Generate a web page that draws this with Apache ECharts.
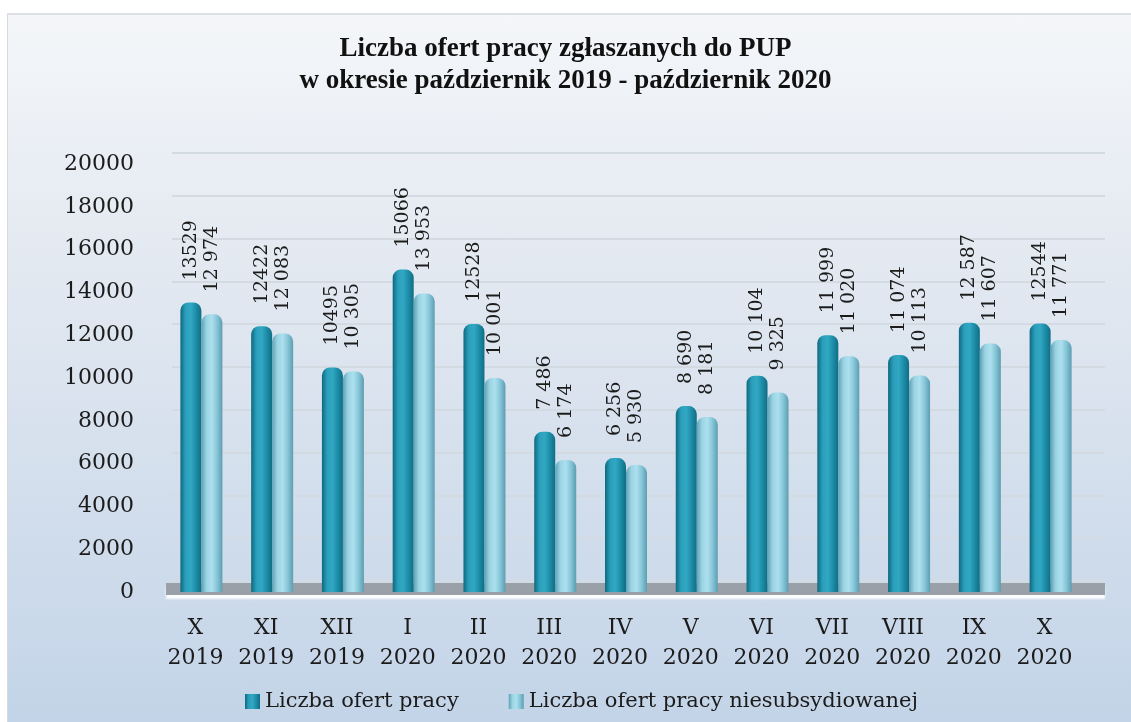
<!DOCTYPE html>
<html>
<head>
<meta charset="utf-8">
<script src="https://cdn.jsdelivr.net/npm/echarts@6/dist/echarts.min.js"></script>
<style>
  html, body { margin: 0; padding: 0; background: #ffffff; }
  #wrap { position: relative; width: 1131px; height: 722px; }
  #panel {
    position: absolute; left: 7px; top: 13px; right: 0; bottom: 0;
    border-left: 1px solid #d6dade; border-top: 2px solid #dde0e4;
    background: linear-gradient(to bottom, #f4f6f9 0%, #e3e9f1 35%, #c3d4e8 100%);
  }
  #chart { position: absolute; left: 0; top: 0; width: 1131px; height: 722px; }
</style>
</head>
<body>
<div id="wrap">
  <div id="panel"></div>
  <div id="chart"></div>
</div>
<script>
const months = ['X\n2019', 'XI\n2019', 'XII\n2019', 'I\n2020', 'II\n2020', 'III\n2020', 'IV\n2020',
  'V\n2020', 'VI\n2020', 'VII\n2020', 'VIII\n2020', 'IX\n2020', 'X\n2020']
const offers = [13529, 12422, 10495, 15066, 12528, 7486, 6256, 8690, 10104, 11999, 11074, 12587, 12544]
const offersUnsub = [12974, 12083, 10305, 13953, 10001, 6174, 5930, 8181, 9325, 11020, 10113, 11607, 11771]
// labels as printed in the source chart (spacing is inconsistent there)
const offersLabels = ['13529', '12422', '10495', '15066', '12528', '7 486', '6 256', '8 690', '10 104',
  '11 999', '11 074', '12 587', '12544']
const offersUnsubLabels = ['12 974', '12 083', '10 305', '13 953', '10 001', '6 174', '5 930', '8 181',
  '9 325', '11 020', '10 113', '11 607', '11 771']
const yTicks = { min: 0, max: 20000, interval: 2000 }

const serif = 'DejaVu Serif'
const chart = echarts.init(document.getElementById('chart'))

function cylinder(stops) {
  return new echarts.graphic.LinearGradient(0, 0, 1, 0, stops.map((c, i) => ({
    offset: i / (stops.length - 1), color: c
  })))
}
const darkFill = cylinder(['#0e687f', '#2a9fbb', '#31a8c3', '#1d8ca7', '#106d84'])
const lightFill = cylinder(['#5ea2b5', '#9cd4e4', '#ace0ee', '#86c5d7', '#5c9db0'])

function valueLabel(texts) {
  return {
    show: true,
    position: 'top',
    rotate: 90,
    align: 'left',
    verticalAlign: 'middle',
    distance: 22,
    fontFamily: serif,
    fontSize: 19,
    color: '#1b1b1b',
    formatter: (p) => texts[p.dataIndex]
  }
}

const hiddenValueAxis = (gridIndex) => ({
  type: 'value',
  gridIndex,
  min: yTicks.min,
  max: yTicks.max,
  show: false
})

chart.setOption({
  backgroundColor: 'transparent',
  animation: false,
  title: {
    text: 'Liczba ofert pracy zgłaszanych do PUP\nw okresie październik 2019 - październik 2020',
    left: 'center',
    top: 28,
    textStyle: {
      fontFamily: 'Liberation Serif',
      fontWeight: 'bold',
      fontSize: 27,
      lineHeight: 32,
      color: '#111'
    }
  },
  legend: {
    left: 240,
    top: 686,
    itemWidth: 15,
    itemHeight: 15,
    itemGap: 50,
    icon: 'rect',
    textStyle: { fontFamily: serif, fontSize: 21, color: '#1b1b1b' },
    data: ['Liczba ofert pracy', 'Liczba ofert pracy niesubsydiowanej']
  },
  grid: [
    { left: 166, right: 45, top: 164, bottom: 130 },
    // back wall of the 3D frame (gridlines)
    { left: 172, right: 26, top: 153, bottom: 141 },
    // floor slab
    { left: 166, right: 26, top: 400, bottom: 133 }
  ],
  xAxis: [
    {
      type: 'category',
      data: months,
      gridIndex: 0,
      axisLine: { show: false },
      axisTick: { show: false },
      axisLabel: {
        interval: 0,
        fontFamily: serif,
        fontSize: 22,
        lineHeight: 30,
        color: '#1b1b1b',
        margin: 21,
        padding: [0, 12, 0, 0]
      }
    },
    {
      type: 'category',
      data: months,
      gridIndex: 1,
      show: false
    },
    {
      type: 'category',
      data: months,
      gridIndex: 2,
      z: 0,
      axisLine: {
        show: true,
        lineStyle: {
          color: '#9aa0a7',
          width: 12,
          cap: 'butt',
          shadowColor: 'rgba(255,255,255,0.9)',
          shadowOffsetY: 4,
          shadowBlur: 2
        }
      },
      axisTick: { show: false },
      axisLabel: { show: false }
    }
  ],
  yAxis: [
    {
      type: 'value',
      gridIndex: 0,
      min: yTicks.min,
      max: yTicks.max,
      interval: yTicks.interval,
      splitLine: { show: false },
      axisLine: { show: false },
      axisTick: { show: false },
      axisLabel: {
        fontFamily: serif,
        fontSize: 22,
        color: '#1b1b1b',
        margin: 32,
        padding: [12, 0, 0, 0],
        formatter: (v) => String(v)
      }
    },
    {
      type: 'value',
      gridIndex: 1,
      min: yTicks.min,
      max: yTicks.max,
      interval: yTicks.interval,
      z: 0,
      axisLine: { show: false },
      axisTick: { show: false },
      axisLabel: { show: false },
      splitLine: { lineStyle: { color: '#d4dae1', width: 2 } }
    },
    hiddenValueAxis(2)
  ],
  series: [
    {
      name: 'Liczba ofert pracy',
      type: 'bar',
      xAxisIndex: 0,
      yAxisIndex: 0,
      z: 5,
      data: offers,
      barWidth: 21,
      barGap: '0%',
      itemStyle: { color: darkFill, borderRadius: [8, 8, 0, 0] },
      label: valueLabel(offersLabels)
    },
    {
      name: 'Liczba ofert pracy niesubsydiowanej',
      type: 'bar',
      xAxisIndex: 0,
      yAxisIndex: 0,
      z: 5,
      data: offersUnsub,
      barWidth: 21,
      itemStyle: { color: lightFill, borderRadius: [8, 8, 0, 0] },
      label: valueLabel(offersUnsubLabels)
    }
  ]
})
</script>
</body>
</html>
